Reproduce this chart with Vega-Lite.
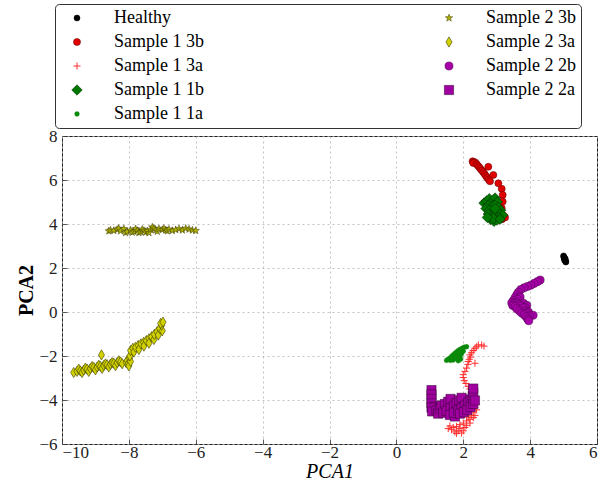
{
  "$schema": "https://vega.github.io/schema/vega-lite/v6.json",
  "width": 535,
  "height": 308,
  "autosize": {"type": "none"},
  "padding": {"left": 62, "top": 136, "right": 19, "bottom": 42},
  "background": "white",
  "data": {
    "values": [
      {"series": "Healthy", "x": 5.00, "y": 2.55},
      {"series": "Healthy", "x": 5.01, "y": 2.50},
      {"series": "Healthy", "x": 5.02, "y": 2.46},
      {"series": "Healthy", "x": 5.03, "y": 2.42},
      {"series": "Healthy", "x": 5.04, "y": 2.38},
      {"series": "Healthy", "x": 5.05, "y": 2.34},
      {"series": "Healthy", "x": 5.06, "y": 2.30},
      {"series": "Healthy", "x": 5.07, "y": 2.27},
      {"series": "Healthy", "x": 5.03, "y": 2.36},
      {"series": "Healthy", "x": 5.05, "y": 2.42},

      {"series": "Sample 1 3b", "x": 2.28, "y": 6.85},
      {"series": "Sample 1 3b", "x": 2.32, "y": 6.82},
      {"series": "Sample 1 3b", "x": 2.36, "y": 6.79},
      {"series": "Sample 1 3b", "x": 2.30, "y": 6.77},
      {"series": "Sample 1 3b", "x": 2.40, "y": 6.72},
      {"series": "Sample 1 3b", "x": 2.44, "y": 6.65},
      {"series": "Sample 1 3b", "x": 2.48, "y": 6.58},
      {"series": "Sample 1 3b", "x": 2.52, "y": 6.50},
      {"series": "Sample 1 3b", "x": 2.56, "y": 6.43},
      {"series": "Sample 1 3b", "x": 2.60, "y": 6.35},
      {"series": "Sample 1 3b", "x": 2.64, "y": 6.27},
      {"series": "Sample 1 3b", "x": 2.68, "y": 6.18},
      {"series": "Sample 1 3b", "x": 2.72, "y": 6.10},
      {"series": "Sample 1 3b", "x": 2.76, "y": 6.02},
      {"series": "Sample 1 3b", "x": 2.80, "y": 5.94},
      {"series": "Sample 1 3b", "x": 2.75, "y": 6.60},
      {"series": "Sample 1 3b", "x": 2.90, "y": 6.23},
      {"series": "Sample 1 3b", "x": 3.05, "y": 5.85},
      {"series": "Sample 1 3b", "x": 3.15, "y": 5.60},
      {"series": "Sample 1 3b", "x": 3.18, "y": 5.32},
      {"series": "Sample 1 3b", "x": 3.18, "y": 5.02},
      {"series": "Sample 1 3b", "x": 3.15, "y": 4.72},
      {"series": "Sample 1 3b", "x": 3.20, "y": 4.38},
      {"series": "Sample 1 3b", "x": 3.16, "y": 4.22},
      {"series": "Sample 1 3b", "x": 3.10, "y": 4.20},
      {"series": "Sample 1 3b", "x": 3.25, "y": 4.30},

      {"series": "Sample 1 3a", "x": 2.45, "y": -1.50},
      {"series": "Sample 1 3a", "x": 2.55, "y": -1.50},
      {"series": "Sample 1 3a", "x": 2.62, "y": -1.55},
      {"series": "Sample 1 3a", "x": 2.40, "y": -1.58},
      {"series": "Sample 1 3a", "x": 2.35, "y": -1.65},
      {"series": "Sample 1 3a", "x": 2.30, "y": -1.75},
      {"series": "Sample 1 3a", "x": 2.25, "y": -1.85},
      {"series": "Sample 1 3a", "x": 2.20, "y": -1.95},
      {"series": "Sample 1 3a", "x": 2.22, "y": -2.05},
      {"series": "Sample 1 3a", "x": 2.18, "y": -2.15},
      {"series": "Sample 1 3a", "x": 2.15, "y": -2.25},
      {"series": "Sample 1 3a", "x": 2.14, "y": -2.38},
      {"series": "Sample 1 3a", "x": 2.35, "y": -2.33},
      {"series": "Sample 1 3a", "x": 2.10, "y": -2.55},
      {"series": "Sample 1 3a", "x": 2.05, "y": -2.70},
      {"series": "Sample 1 3a", "x": 2.00, "y": -2.85},
      {"series": "Sample 1 3a", "x": 2.00, "y": -2.98},
      {"series": "Sample 1 3a", "x": 2.03, "y": -3.12},
      {"series": "Sample 1 3a", "x": 2.08, "y": -3.25},
      {"series": "Sample 1 3a", "x": 2.15, "y": -3.38},
      {"series": "Sample 1 3a", "x": 2.20, "y": -3.50},
      {"series": "Sample 1 3a", "x": 2.25, "y": -3.70},
      {"series": "Sample 1 3a", "x": 2.30, "y": -3.90},
      {"series": "Sample 1 3a", "x": 2.30, "y": -4.20},
      {"series": "Sample 1 3a", "x": 2.35, "y": -4.35},
      {"series": "Sample 1 3a", "x": 2.40, "y": -4.45},
      {"series": "Sample 1 3a", "x": 2.30, "y": -4.55},
      {"series": "Sample 1 3a", "x": 2.25, "y": -4.70},
      {"series": "Sample 1 3a", "x": 2.35, "y": -4.70},
      {"series": "Sample 1 3a", "x": 2.30, "y": -4.80},
      {"series": "Sample 1 3a", "x": 2.15, "y": -4.78},
      {"series": "Sample 1 3a", "x": 2.20, "y": -4.88},
      {"series": "Sample 1 3a", "x": 2.10, "y": -4.95},
      {"series": "Sample 1 3a", "x": 2.20, "y": -5.05},
      {"series": "Sample 1 3a", "x": 2.00, "y": -5.05},
      {"series": "Sample 1 3a", "x": 2.10, "y": -5.15},
      {"series": "Sample 1 3a", "x": 1.90, "y": -5.12},
      {"series": "Sample 1 3a", "x": 1.60, "y": -5.18},
      {"series": "Sample 1 3a", "x": 1.80, "y": -5.20},
      {"series": "Sample 1 3a", "x": 1.70, "y": -5.25},
      {"series": "Sample 1 3a", "x": 2.05, "y": -5.25},
      {"series": "Sample 1 3a", "x": 1.55, "y": -5.30},
      {"series": "Sample 1 3a", "x": 1.90, "y": -5.30},
      {"series": "Sample 1 3a", "x": 1.65, "y": -5.35},
      {"series": "Sample 1 3a", "x": 2.00, "y": -5.40},
      {"series": "Sample 1 3a", "x": 1.85, "y": -5.40},
      {"series": "Sample 1 3a", "x": 1.75, "y": -5.45},
      {"series": "Sample 1 3a", "x": 1.95, "y": -5.50},
      {"series": "Sample 1 3a", "x": 1.80, "y": -5.52},

      {"series": "Sample 1 1b", "x": 2.62, "y": 4.95},
      {"series": "Sample 1 1b", "x": 2.70, "y": 5.05},
      {"series": "Sample 1 1b", "x": 2.78, "y": 5.15},
      {"series": "Sample 1 1b", "x": 2.88, "y": 5.05},
      {"series": "Sample 1 1b", "x": 2.95, "y": 5.18},
      {"series": "Sample 1 1b", "x": 3.02, "y": 5.00},
      {"series": "Sample 1 1b", "x": 2.75, "y": 4.85},
      {"series": "Sample 1 1b", "x": 2.85, "y": 4.80},
      {"series": "Sample 1 1b", "x": 2.95, "y": 4.85},
      {"series": "Sample 1 1b", "x": 3.05, "y": 4.75},
      {"series": "Sample 1 1b", "x": 3.12, "y": 4.62},
      {"series": "Sample 1 1b", "x": 2.68, "y": 4.70},
      {"series": "Sample 1 1b", "x": 2.78, "y": 4.62},
      {"series": "Sample 1 1b", "x": 2.88, "y": 4.55},
      {"series": "Sample 1 1b", "x": 2.98, "y": 4.60},
      {"series": "Sample 1 1b", "x": 3.08, "y": 4.48},
      {"series": "Sample 1 1b", "x": 3.18, "y": 4.40},
      {"series": "Sample 1 1b", "x": 2.75, "y": 4.45},
      {"series": "Sample 1 1b", "x": 2.85, "y": 4.35},
      {"series": "Sample 1 1b", "x": 2.95, "y": 4.40},
      {"series": "Sample 1 1b", "x": 3.05, "y": 4.30},
      {"series": "Sample 1 1b", "x": 2.82, "y": 4.20},
      {"series": "Sample 1 1b", "x": 2.92, "y": 4.12},
      {"series": "Sample 1 1b", "x": 3.00, "y": 4.18},
      {"series": "Sample 1 1b", "x": 2.90, "y": 4.25},
      {"series": "Sample 1 1b", "x": 3.10, "y": 4.22},
      {"series": "Sample 1 1b", "x": 2.72, "y": 4.30},
      {"series": "Sample 1 1b", "x": 2.95, "y": 4.70},

      {"series": "Sample 1 1a", "x": 1.50, "y": -2.20},
      {"series": "Sample 1 1a", "x": 1.55, "y": -2.15},
      {"series": "Sample 1 1a", "x": 1.60, "y": -2.10},
      {"series": "Sample 1 1a", "x": 1.65, "y": -2.02},
      {"series": "Sample 1 1a", "x": 1.70, "y": -1.95},
      {"series": "Sample 1 1a", "x": 1.75, "y": -1.88},
      {"series": "Sample 1 1a", "x": 1.80, "y": -1.82},
      {"series": "Sample 1 1a", "x": 1.85, "y": -1.76},
      {"series": "Sample 1 1a", "x": 1.90, "y": -1.70},
      {"series": "Sample 1 1a", "x": 1.97, "y": -1.65},
      {"series": "Sample 1 1a", "x": 2.03, "y": -1.60},
      {"series": "Sample 1 1a", "x": 2.10, "y": -1.58},
      {"series": "Sample 1 1a", "x": 1.70, "y": -2.18},
      {"series": "Sample 1 1a", "x": 1.80, "y": -2.12},
      {"series": "Sample 1 1a", "x": 1.85, "y": -2.22},
      {"series": "Sample 1 1a", "x": 1.90, "y": -2.05},
      {"series": "Sample 1 1a", "x": 1.95, "y": -1.90},
      {"series": "Sample 1 1a", "x": 2.00, "y": -1.78},
      {"series": "Sample 1 1a", "x": 1.75, "y": -2.05},
      {"series": "Sample 1 1a", "x": 1.85, "y": -1.95},
      {"series": "Sample 1 1a", "x": 1.62, "y": -2.20},
      {"series": "Sample 1 1a", "x": 1.92, "y": -2.15},
      {"series": "Sample 1 1a", "x": 1.68, "y": -2.08},
      {"series": "Sample 1 1a", "x": 1.78, "y": -1.98},

      {"series": "Sample 2 3b", "x": -8.60, "y": 3.68},
      {"series": "Sample 2 3b", "x": -8.55, "y": 3.72},
      {"series": "Sample 2 3b", "x": -8.45, "y": 3.70},
      {"series": "Sample 2 3b", "x": -8.35, "y": 3.75},
      {"series": "Sample 2 3b", "x": -8.30, "y": 3.80},
      {"series": "Sample 2 3b", "x": -8.25, "y": 3.68},
      {"series": "Sample 2 3b", "x": -8.15, "y": 3.78},
      {"series": "Sample 2 3b", "x": -8.10, "y": 3.60},
      {"series": "Sample 2 3b", "x": -8.05, "y": 3.65},
      {"series": "Sample 2 3b", "x": -7.95, "y": 3.72},
      {"series": "Sample 2 3b", "x": -7.90, "y": 3.62},
      {"series": "Sample 2 3b", "x": -7.85, "y": 3.66},
      {"series": "Sample 2 3b", "x": -7.80, "y": 3.78},
      {"series": "Sample 2 3b", "x": -7.75, "y": 3.70},
      {"series": "Sample 2 3b", "x": -7.70, "y": 3.60},
      {"series": "Sample 2 3b", "x": -7.65, "y": 3.64},
      {"series": "Sample 2 3b", "x": -7.60, "y": 3.76},
      {"series": "Sample 2 3b", "x": -7.55, "y": 3.70},
      {"series": "Sample 2 3b", "x": -7.50, "y": 3.62},
      {"series": "Sample 2 3b", "x": -7.45, "y": 3.68},
      {"series": "Sample 2 3b", "x": -7.40, "y": 3.60},
      {"series": "Sample 2 3b", "x": -7.35, "y": 3.75},
      {"series": "Sample 2 3b", "x": -7.30, "y": 3.86},
      {"series": "Sample 2 3b", "x": -7.25, "y": 3.80},
      {"series": "Sample 2 3b", "x": -7.20, "y": 3.72},
      {"series": "Sample 2 3b", "x": -7.15, "y": 3.66},
      {"series": "Sample 2 3b", "x": -7.10, "y": 3.78},
      {"series": "Sample 2 3b", "x": -7.00, "y": 3.74},
      {"series": "Sample 2 3b", "x": -6.95, "y": 3.80},
      {"series": "Sample 2 3b", "x": -6.90, "y": 3.72},
      {"series": "Sample 2 3b", "x": -6.85, "y": 3.68},
      {"series": "Sample 2 3b", "x": -6.80, "y": 3.76},
      {"series": "Sample 2 3b", "x": -6.70, "y": 3.70},
      {"series": "Sample 2 3b", "x": -6.60, "y": 3.74},
      {"series": "Sample 2 3b", "x": -6.50, "y": 3.78},
      {"series": "Sample 2 3b", "x": -6.40, "y": 3.72},
      {"series": "Sample 2 3b", "x": -6.30, "y": 3.80},
      {"series": "Sample 2 3b", "x": -6.20, "y": 3.76},
      {"series": "Sample 2 3b", "x": -6.10, "y": 3.72},
      {"series": "Sample 2 3b", "x": -6.00, "y": 3.70},

      {"series": "Sample 2 3a", "x": -9.65, "y": -2.75},
      {"series": "Sample 2 3a", "x": -9.55, "y": -2.70},
      {"series": "Sample 2 3a", "x": -9.50, "y": -2.60},
      {"series": "Sample 2 3a", "x": -9.45, "y": -2.68},
      {"series": "Sample 2 3a", "x": -9.40, "y": -2.75},
      {"series": "Sample 2 3a", "x": -9.35, "y": -2.64},
      {"series": "Sample 2 3a", "x": -9.30, "y": -2.55},
      {"series": "Sample 2 3a", "x": -9.25, "y": -2.60},
      {"series": "Sample 2 3a", "x": -9.20, "y": -2.70},
      {"series": "Sample 2 3a", "x": -9.15, "y": -2.57},
      {"series": "Sample 2 3a", "x": -9.10, "y": -2.48},
      {"series": "Sample 2 3a", "x": -9.05, "y": -2.52},
      {"series": "Sample 2 3a", "x": -9.00, "y": -2.63},
      {"series": "Sample 2 3a", "x": -8.95, "y": -2.50},
      {"series": "Sample 2 3a", "x": -8.90, "y": -2.42},
      {"series": "Sample 2 3a", "x": -8.85, "y": -2.47},
      {"series": "Sample 2 3a", "x": -8.82, "y": -1.95},
      {"series": "Sample 2 3a", "x": -8.80, "y": -2.56},
      {"series": "Sample 2 3a", "x": -8.75, "y": -2.43},
      {"series": "Sample 2 3a", "x": -8.70, "y": -2.36},
      {"series": "Sample 2 3a", "x": -8.65, "y": -2.40},
      {"series": "Sample 2 3a", "x": -8.60, "y": -2.50},
      {"series": "Sample 2 3a", "x": -8.55, "y": -2.37},
      {"series": "Sample 2 3a", "x": -8.50, "y": -2.30},
      {"series": "Sample 2 3a", "x": -8.45, "y": -2.33},
      {"series": "Sample 2 3a", "x": -8.40, "y": -2.44},
      {"series": "Sample 2 3a", "x": -8.35, "y": -2.30},
      {"series": "Sample 2 3a", "x": -8.30, "y": -2.22},
      {"series": "Sample 2 3a", "x": -8.25, "y": -2.27},
      {"series": "Sample 2 3a", "x": -8.20, "y": -2.35},
      {"series": "Sample 2 3a", "x": -8.08, "y": -2.30},
      {"series": "Sample 2 3a", "x": -8.05, "y": -2.20},
      {"series": "Sample 2 3a", "x": -8.02, "y": -2.35},
      {"series": "Sample 2 3a", "x": -8.00, "y": -2.45},
      {"series": "Sample 2 3a", "x": -7.98, "y": -2.10},
      {"series": "Sample 2 3a", "x": -7.95, "y": -2.25},
      {"series": "Sample 2 3a", "x": -7.97, "y": -2.00},
      {"series": "Sample 2 3a", "x": -7.95, "y": -1.75},
      {"series": "Sample 2 3a", "x": -7.88, "y": -1.65},
      {"series": "Sample 2 3a", "x": -7.85, "y": -1.82},
      {"series": "Sample 2 3a", "x": -7.80, "y": -1.60},
      {"series": "Sample 2 3a", "x": -7.72, "y": -1.52},
      {"series": "Sample 2 3a", "x": -7.70, "y": -1.70},
      {"series": "Sample 2 3a", "x": -7.64, "y": -1.45},
      {"series": "Sample 2 3a", "x": -7.56, "y": -1.38},
      {"series": "Sample 2 3a", "x": -7.55, "y": -1.55},
      {"series": "Sample 2 3a", "x": -7.48, "y": -1.30},
      {"series": "Sample 2 3a", "x": -7.40, "y": -1.22},
      {"series": "Sample 2 3a", "x": -7.40, "y": -1.42},
      {"series": "Sample 2 3a", "x": -7.32, "y": -1.12},
      {"series": "Sample 2 3a", "x": -7.25, "y": -1.25},
      {"series": "Sample 2 3a", "x": -7.24, "y": -1.02},
      {"series": "Sample 2 3a", "x": -7.16, "y": -0.90},
      {"series": "Sample 2 3a", "x": -7.12, "y": -1.05},
      {"series": "Sample 2 3a", "x": -7.08, "y": -0.75},
      {"series": "Sample 2 3a", "x": -7.00, "y": -0.85},
      {"series": "Sample 2 3a", "x": -7.02, "y": -0.60},
      {"series": "Sample 2 3a", "x": -7.05, "y": -0.52},
      {"series": "Sample 2 3a", "x": -6.98, "y": -0.46},

      {"series": "Sample 2 2b", "x": 4.30, "y": 1.45},
      {"series": "Sample 2 2b", "x": 4.22, "y": 1.38},
      {"series": "Sample 2 2b", "x": 4.12, "y": 1.30},
      {"series": "Sample 2 2b", "x": 4.02, "y": 1.22},
      {"series": "Sample 2 2b", "x": 3.92, "y": 1.16},
      {"series": "Sample 2 2b", "x": 3.82, "y": 1.10},
      {"series": "Sample 2 2b", "x": 3.72, "y": 1.02},
      {"series": "Sample 2 2b", "x": 3.65, "y": 0.90},
      {"series": "Sample 2 2b", "x": 3.60, "y": 0.78},
      {"series": "Sample 2 2b", "x": 3.70, "y": 0.68},
      {"series": "Sample 2 2b", "x": 3.55, "y": 0.65},
      {"series": "Sample 2 2b", "x": 3.62, "y": 0.58},
      {"series": "Sample 2 2b", "x": 3.50, "y": 0.52},
      {"series": "Sample 2 2b", "x": 3.58, "y": 0.45},
      {"series": "Sample 2 2b", "x": 3.45, "y": 0.42},
      {"series": "Sample 2 2b", "x": 3.52, "y": 0.38},
      {"series": "Sample 2 2b", "x": 3.80, "y": 0.40},
      {"series": "Sample 2 2b", "x": 3.65, "y": 0.35},
      {"series": "Sample 2 2b", "x": 3.48, "y": 0.30},
      {"series": "Sample 2 2b", "x": 3.90, "y": 0.30},
      {"series": "Sample 2 2b", "x": 3.72, "y": 0.28},
      {"series": "Sample 2 2b", "x": 3.55, "y": 0.25},
      {"series": "Sample 2 2b", "x": 3.85, "y": 0.20},
      {"series": "Sample 2 2b", "x": 3.78, "y": 0.18},
      {"series": "Sample 2 2b", "x": 3.60, "y": 0.15},
      {"series": "Sample 2 2b", "x": 3.68, "y": 0.05},
      {"series": "Sample 2 2b", "x": 3.85, "y": 0.05},
      {"series": "Sample 2 2b", "x": 3.95, "y": 0.00},
      {"series": "Sample 2 2b", "x": 3.75, "y": -0.05},
      {"series": "Sample 2 2b", "x": 3.90, "y": -0.05},
      {"series": "Sample 2 2b", "x": 3.82, "y": -0.12},
      {"series": "Sample 2 2b", "x": 4.09, "y": -0.15},
      {"series": "Sample 2 2b", "x": 3.98, "y": -0.18},
      {"series": "Sample 2 2b", "x": 3.88, "y": -0.22},
      {"series": "Sample 2 2b", "x": 3.93, "y": -0.32},
      {"series": "Sample 2 2b", "x": 3.96, "y": -0.40},

      {"series": "Sample 2 2a", "x": 1.05, "y": -3.55},
      {"series": "Sample 2 2a", "x": 1.05, "y": -3.75},
      {"series": "Sample 2 2a", "x": 1.05, "y": -3.95},
      {"series": "Sample 2 2a", "x": 1.05, "y": -4.15},
      {"series": "Sample 2 2a", "x": 1.15, "y": -4.30},
      {"series": "Sample 2 2a", "x": 1.05, "y": -4.35},
      {"series": "Sample 2 2a", "x": 1.07, "y": -4.52},
      {"series": "Sample 2 2a", "x": 1.20, "y": -4.48},
      {"series": "Sample 2 2a", "x": 1.25, "y": -4.62},
      {"series": "Sample 2 2a", "x": 1.30, "y": -4.40},
      {"series": "Sample 2 2a", "x": 1.35, "y": -4.25},
      {"series": "Sample 2 2a", "x": 1.45, "y": -4.18},
      {"series": "Sample 2 2a", "x": 1.55, "y": -4.08},
      {"series": "Sample 2 2a", "x": 1.62, "y": -3.95},
      {"series": "Sample 2 2a", "x": 1.40, "y": -4.58},
      {"series": "Sample 2 2a", "x": 1.50, "y": -4.50},
      {"series": "Sample 2 2a", "x": 1.62, "y": -4.38},
      {"series": "Sample 2 2a", "x": 1.72, "y": -4.28},
      {"series": "Sample 2 2a", "x": 1.80, "y": -4.15},
      {"series": "Sample 2 2a", "x": 1.88, "y": -4.02},
      {"series": "Sample 2 2a", "x": 1.95, "y": -3.90},
      {"series": "Sample 2 2a", "x": 1.60, "y": -4.68},
      {"series": "Sample 2 2a", "x": 1.75, "y": -4.75},
      {"series": "Sample 2 2a", "x": 1.72, "y": -4.58},
      {"series": "Sample 2 2a", "x": 1.85, "y": -4.48},
      {"series": "Sample 2 2a", "x": 1.95, "y": -4.38},
      {"series": "Sample 2 2a", "x": 2.05, "y": -4.25},
      {"series": "Sample 2 2a", "x": 2.15, "y": -4.12},
      {"series": "Sample 2 2a", "x": 2.22, "y": -3.98},
      {"series": "Sample 2 2a", "x": 2.28, "y": -3.82},
      {"series": "Sample 2 2a", "x": 2.30, "y": -3.65},
      {"series": "Sample 2 2a", "x": 2.30, "y": -3.48},
      {"series": "Sample 2 2a", "x": 1.90, "y": -4.62},
      {"series": "Sample 2 2a", "x": 2.02, "y": -4.55},
      {"series": "Sample 2 2a", "x": 2.12, "y": -4.45},
      {"series": "Sample 2 2a", "x": 2.22, "y": -4.32},
      {"series": "Sample 2 2a", "x": 2.30, "y": -4.18},
      {"series": "Sample 2 2a", "x": 2.35, "y": -4.02}
    ]
  },
  "mark": {"type": "point", "filled": true, "opacity": 1},
  "encoding": {
    "x": {
      "field": "x",
      "type": "quantitative",
      "scale": {"domain": [-10, 6], "nice": false, "zero": false},
      "axis": {
        "title": "PCA1",
        "titleFontStyle": "italic",
        "titleFontWeight": "normal",
        "titleBaseline": "alphabetic",
        "titleY": 33,
        "values": [-10, -8, -6, -4, -2, 0, 2, 4, 6],
        "labelPadding": 5
      }
    },
    "y": {
      "field": "y",
      "type": "quantitative",
      "scale": {"domain": [-6, 8], "nice": false, "zero": false},
      "axis": {
        "title": "PCA2",
        "titleFontWeight": "bold",
        "titleBaseline": "alphabetic",
        "titleX": -30,
        "values": [-6, -4, -2, 0, 2, 4, 6, 8],
        "labelPadding": 10
      }
    },
    "shape": {
      "field": "series",
      "type": "nominal",
      "scale": {
        "domain": ["Healthy", "Sample 1 3b", "Sample 1 3a", "Sample 1 1b", "Sample 1 1a", "Sample 2 3b", "Sample 2 3a", "Sample 2 2b", "Sample 2 2a"],
        "range": [
          "circle",
          "circle",
          "M-1,0L1,0M0,-1L0,1",
          "diamond",
          "circle",
          "M0,-1L0.235,-0.324L0.951,-0.309L0.38,0.124L0.588,0.809L0,0.4L-0.588,0.809L-0.38,0.124L-0.951,-0.309L-0.235,-0.324Z",
          "M0,-1L0.6,0L0,1L-0.6,0Z",
          "circle",
          "square"
        ]
      }
    },
    "fill": {
      "field": "series",
      "type": "nominal",
      "scale": {
        "domain": ["Healthy", "Sample 1 3b", "Sample 1 3a", "Sample 1 1b", "Sample 1 1a", "Sample 2 3b", "Sample 2 3a", "Sample 2 2b", "Sample 2 2a"],
        "range": ["#000000", "#e00000", "#ff3030", "#007800", "#0a8a0a", "#b0b000", "#d2d200", "#a800a8", "#a000a0"]
      },
      "legend": {
        "orient": "none",
        "legendX": -7,
        "legendY": -132,
        "title": null,
        "columns": 2
      }
    },
    "stroke": {
      "field": "series",
      "type": "nominal",
      "scale": {
        "domain": ["Healthy", "Sample 1 3b", "Sample 1 3a", "Sample 1 1b", "Sample 1 1a", "Sample 2 3b", "Sample 2 3a", "Sample 2 2b", "Sample 2 2a"],
        "range": ["#000000", "#600000", "#ff3030", "#002000", "#0a8a0a", "#3a3a00", "#3a3a00", "#400040", "#300030"]
      }
    },
    "size": {
      "field": "series",
      "type": "nominal",
      "scale": {
        "type": "ordinal",
        "domain": ["Healthy", "Sample 1 3b", "Sample 1 3a", "Sample 1 1b", "Sample 1 1a", "Sample 2 3b", "Sample 2 3a", "Sample 2 2b", "Sample 2 2a"],
        "range": [36, 50, 50, 110, 24, 60, 105, 65, 85]
      }
    },
    "strokeWidth": {
      "field": "series",
      "type": "nominal",
      "scale": {
        "type": "ordinal",
        "domain": ["Healthy", "Sample 1 3b", "Sample 1 3a", "Sample 1 1b", "Sample 1 1a", "Sample 2 3b", "Sample 2 3a", "Sample 2 2b", "Sample 2 2a"],
        "range": [0.5, 0.5, 1, 0.5, 0.3, 0.5, 0.6, 0.5, 0.5]
      }
    }
  },
  "config": {
    "font": "Liberation Serif",
    "view": {"stroke": "#222222", "strokeWidth": 1},
    "axis": {
      "labelFont": "Liberation Serif",
      "labelFontSize": 17,
      "labelColor": "#222222",
      "titleFont": "Liberation Serif",
      "titleFontSize": 20,
      "titleColor": "#000000",
      "grid": true,
      "gridColor": "#b4b4b4",
      "gridDash": [2, 3],
      "gridWidth": 0.8,
      "domain": false,
      "ticks": true,
      "tickColor": "#333333",
      "tickSize": -5,
      "tickWidth": 0.8
    },
    "legend": {
      "labelFont": "Liberation Serif",
      "labelFontSize": 18,
      "labelColor": "#000000",
      "labelLimit": 200,
      "padding": 5,
      "rowPadding": 6,
      "columnPadding": 228,
      "symbolOffset": 8,
      "labelOffset": 28,
      "symbolOpacity": 1,
      "strokeColor": "#333333",
      "fillColor": "#ffffff",
      "cornerRadius": 4
    }
  }
}
